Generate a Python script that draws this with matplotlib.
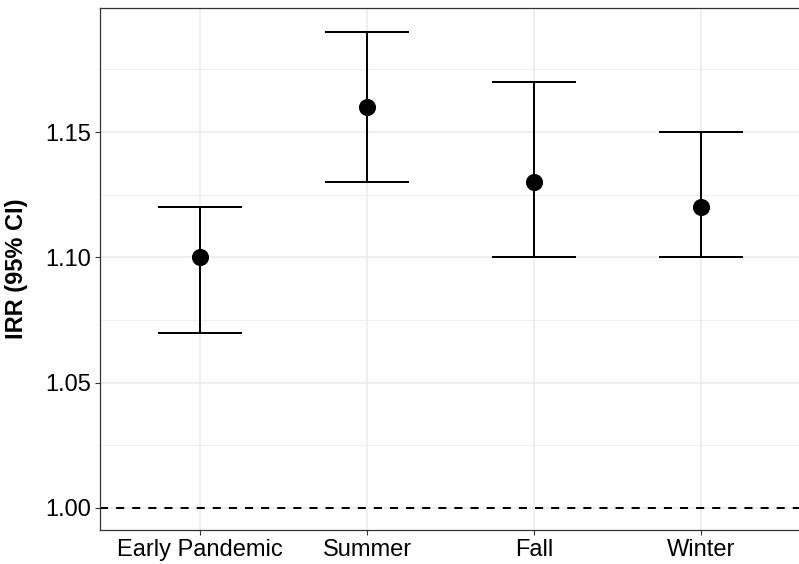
import matplotlib
matplotlib.use("Agg")
import matplotlib.pyplot as plt
from matplotlib.ticker import MultipleLocator

categories = ["Early Pandemic", "Summer", "Fall", "Winter"]
irr = [1.10, 1.16, 1.13, 1.12]
lower = [1.07, 1.13, 1.10, 1.10]
upper = [1.12, 1.19, 1.17, 1.15]
yticks = [1.00, 1.05, 1.10, 1.15]
ytick_labels = ["1.00", "1.05", "1.10", "1.15"]

plt.rcParams['font.family'] = ['Liberation Sans', 'DejaVu Sans']

W, H = 799, 564
fig = plt.figure(figsize=(W / 100, H / 100), dpi=100)
left, right, top, bottom = 100, 801, 8, 530
ax = fig.add_axes([left / W, 1 - bottom / H, (right - left) / W, (bottom - top) / H])

x = list(range(1, len(categories) + 1))
ax.set_xlim(0.4, 4.6)
ax.set_ylim(0.9912, 1.1995)

ax.yaxis.set_minor_locator(MultipleLocator(0.025))
ax.grid(which='major', color='#EBEBEB', lw=1.1, zorder=0)
ax.grid(which='minor', axis='y', color='#EBEBEB', lw=0.55, zorder=0)
ax.set_axisbelow(True)

ax.axhline(1.0, color='black', lw=1.45, ls=(0, (4, 4)), zorder=2)

yerr = [[i - l for i, l in zip(irr, lower)], [u - i for i, u in zip(irr, upper)]]
ax.errorbar(x, irr, yerr=yerr, fmt='none', ecolor='black', elinewidth=1.45,
            capsize=30, capthick=1.45, zorder=3)
ax.plot(x, irr, 'o', color='black', markersize=11.3, zorder=4)

ax.set_xticks(x)
ax.set_xticklabels(categories)
ax.set_yticks(yticks)
ax.set_yticklabels(ytick_labels)
ax.tick_params(axis='both', which='major', length=3.5, width=0.8, color='#333333',
               labelsize=17, labelcolor='black', pad=3)
ax.tick_params(axis='both', which='minor', length=0)
for s in ax.spines.values():
    s.set_color('#333333')
    s.set_linewidth(0.9)

ax.set_ylabel("IRR (95% CI)", fontsize=17, fontweight='bold')
ax.yaxis.set_label_coords((28 - left) / (right - left), 0.5)

fig.savefig("out.png", dpi=100)
